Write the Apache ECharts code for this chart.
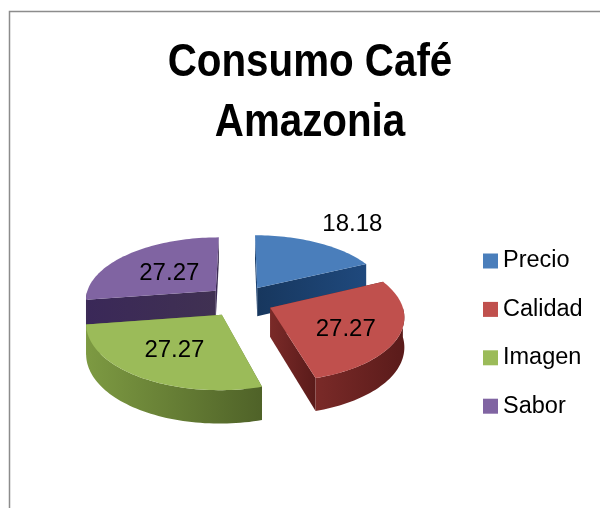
<!DOCTYPE html>
<html>
<head>
<meta charset="utf-8">
<script src="https://cdn.jsdelivr.net/npm/echarts@6/dist/echarts.min.js"></script>
<style>
  html, body { margin: 0; padding: 0; background: #fff; }
  #chart { width: 600px; height: 508px; }
</style>
</head>
<body>
<div id="chart"></div>
<script>
const categories = ["Precio", "Calidad", "Imagen", "Sabor"];
const values = [18.18, 27.27, 27.27, 27.27];
const titleText = "Consumo Café\nAmazonia";

const topColors = ["#4a7ebb", "#c0504d", "#9bbb59", "#8064a2"];
const wallColors = [
  ["#17375e", "#1f497d"],
  ["#7a2a28", "#5a1b1a"],
  ["#7d9a42", "#4f6228"],
  ["#3a2858", "#403152"]
];
// how far from the slice corner the label sits, in radii, plus a small pixel shift
const labelRadius = [1.62, 0.6, 0.6, 0.5];
const labelShift = [[6, 4], [0, 5], [0, 0], [-1, 2]];

// layout of the tilted pie
const cx = 240, cy = 301, rx = 131, ry = 64, thick = 29;
const explode = 0.25, persp = 0.125;

const total = values.reduce((a, b) => a + b, 0);
const FONT = '"Liberation Sans", Arial, sans-serif';

function project(idx, x, y, down) {
  const mid = midAngle(idx);
  const ux = x + Math.sin(mid) * explode;
  const uy = y - Math.cos(mid) * explode;
  const s = 1 + persp * uy;
  return [cx + rx * ux * s, cy + ry * uy * s + (down ? thick * s : 0)];
}
function startAngle(idx) {
  let sum = 0;
  for (let i = 0; i < idx; i++) sum += values[i];
  return (sum / total) * Math.PI * 2;
}
function endAngle(idx) {
  return startAngle(idx) + (values[idx] / total) * Math.PI * 2;
}
function midAngle(idx) {
  return (startAngle(idx) + endAngle(idx)) / 2;
}
function arc(idx, from, to, down) {
  const pts = [];
  const steps = Math.max(2, Math.ceil((to - from) / 0.03));
  for (let i = 0; i <= steps; i++) {
    const a = from + ((to - from) * i) / steps;
    pts.push(project(idx, Math.sin(a), -Math.cos(a), down));
  }
  return pts;
}
function wallFill(idx) {
  return {
    type: "linear", x: 0, y: 0, x2: 1, y2: 0,
    colorStops: [
      { offset: 0, color: wallColors[idx][0] },
      { offset: 1, color: wallColors[idx][1] }
    ]
  };
}
function renderSlice(idx, api) {
  const value = api.value(0);
  const a0 = startAngle(idx), a1 = endAngle(idx);
  const fill = wallFill(idx);
  const children = [];
  const radial = a => [
    project(idx, 0, 0, false),
    project(idx, Math.sin(a), -Math.cos(a), false),
    project(idx, Math.sin(a), -Math.cos(a), true),
    project(idx, 0, 0, true)
  ];
  children.push({ type: "polygon", shape: { points: radial(a0) }, style: { fill } });
  children.push({ type: "polygon", shape: { points: radial(a1) }, style: { fill } });
  // outer wall, only the part facing the viewer
  const from = Math.max(a0, Math.PI / 2), to = Math.min(a1, Math.PI * 1.5);
  if (to > from) {
    const pts = arc(idx, from, to, false).concat(arc(idx, from, to, true).reverse());
    children.push({ type: "polygon", shape: { points: pts }, style: { fill } });
  }
  const topPts = [project(idx, 0, 0, false)].concat(arc(idx, a0, a1, false));
  children.push({ type: "polygon", shape: { points: topPts }, style: { fill: topColors[idx] } });
  const mid = midAngle(idx);
  const pos = project(idx, Math.sin(mid) * labelRadius[idx], -Math.cos(mid) * labelRadius[idx], false);
  children.push({
    type: "text",
    z2: 100,
    style: {
      text: value.toFixed(2), x: pos[0] + labelShift[idx][0], y: pos[1] + labelShift[idx][1],
      align: "center", verticalAlign: "middle",
      fill: "#000", font: "24px " + FONT
    }
  });
  return { type: "group", children };
}

// back slices first
const depthOrder = categories.map((c, i) => i).sort((a, b) => Math.cos(midAngle(b)) - Math.cos(midAngle(a)));

const chart = echarts.init(document.getElementById("chart"));
chart.setOption({
  animation: false,
  legend: {
    orient: "vertical",
    left: 483,
    top: 248,
    padding: 0,
    itemWidth: 15,
    itemHeight: 15,
    itemGap: 22.4,
    icon: "rect",
    selectedMode: false,
    data: categories,
    textStyle: { fontFamily: FONT, fontSize: 23.5, color: "#000", lineHeight: 26 }
  },
  graphic: [
    {
      type: "rect",
      silent: true,
      shape: { x: 9.5, y: 11.5, width: 700, height: 600 },
      style: { fill: "none", stroke: "#8c8c8c", lineWidth: 1.5 }
    },
    {
      // the reference title is a condensed face, squeeze it sideways
      type: "text",
      silent: true,
      x: 310,
      y: 33,
      scaleX: 0.858,
      style: {
        text: titleText,
        align: "center",
        font: "bold 47px " + FONT,
        lineHeight: 60,
        fill: "#000"
      }
    }
  ],
  series: categories.map((name, i) => ({
    type: "custom",
    name,
    coordinateSystem: "none",
    silent: true,
    z: 2 + depthOrder.indexOf(i),
    itemStyle: { color: topColors[i] },
    data: [[values[i]]],
    renderItem: (params, api) => renderSlice(i, api)
  }))
});
</script>
</body>
</html>
